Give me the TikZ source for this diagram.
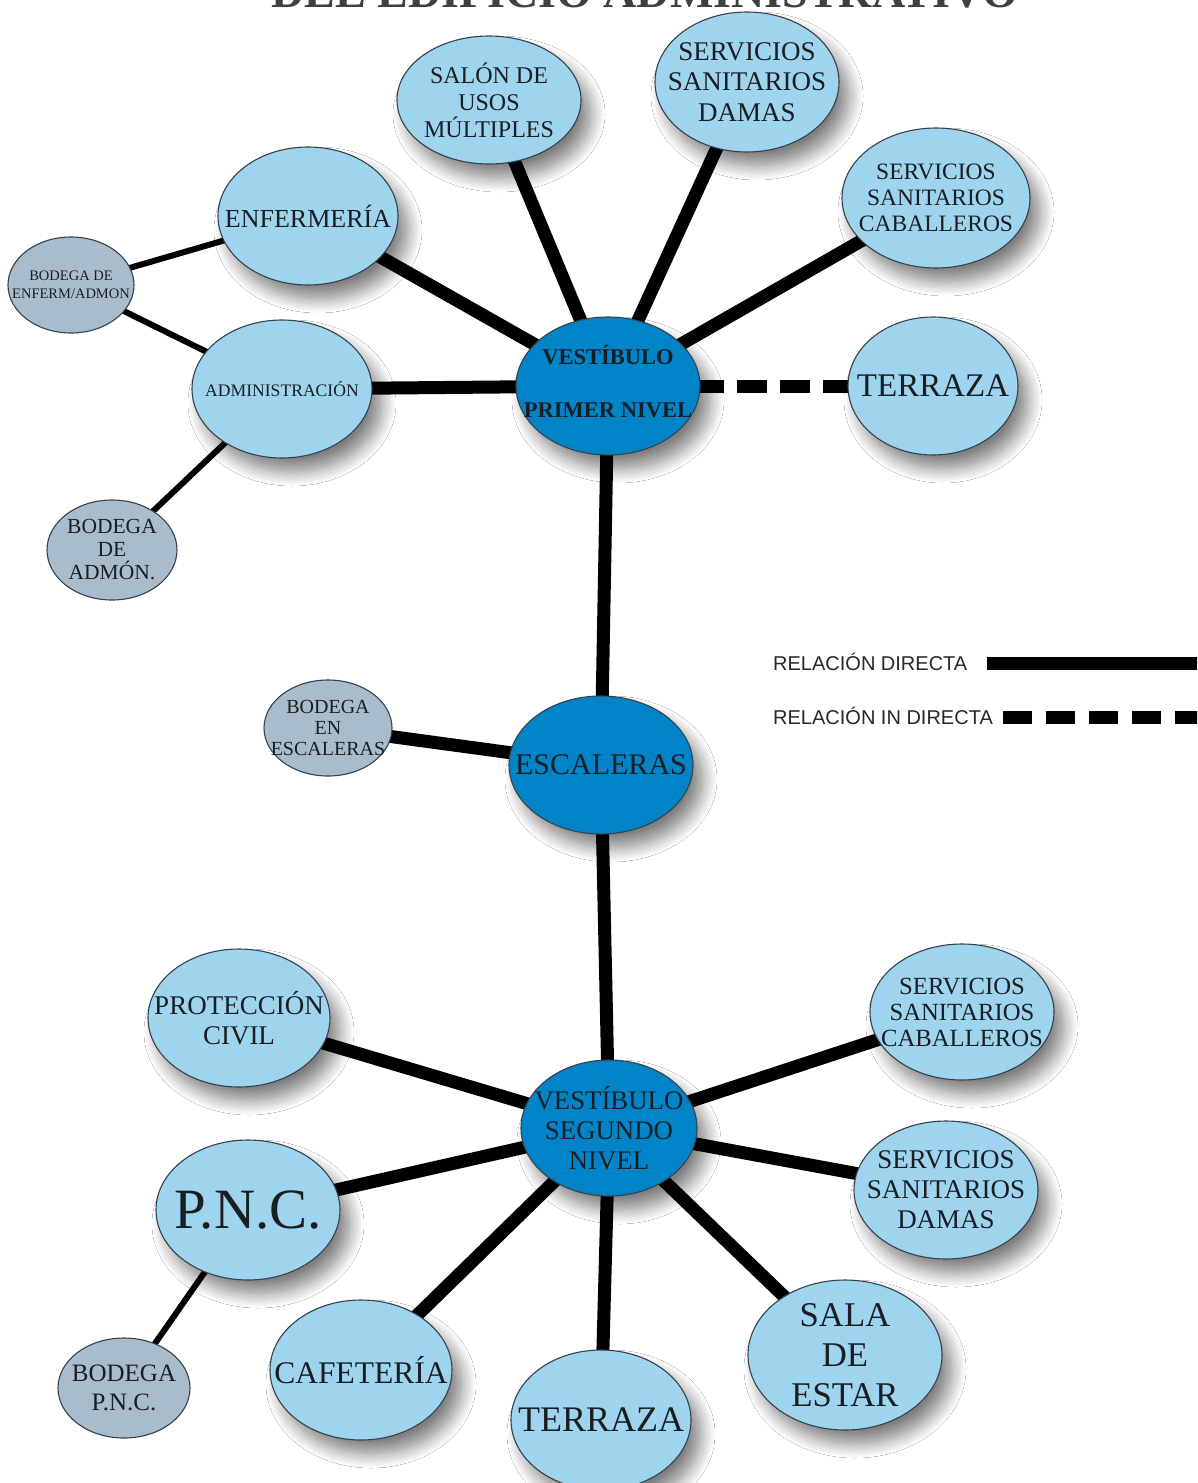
\documentclass[tikz,border=0pt]{standalone}
\usepackage{fontspec}
\setmainfont{Liberation Serif}
\newfontfamily\legfont{Liberation Sans}
\usetikzlibrary{shapes.geometric,backgrounds,shadows.blur}
\definecolor{lblue}{RGB}{158,212,238}
\definecolor{dblue}{RGB}{0,132,199}
\definecolor{gbox}{RGB}{168,188,204}
\definecolor{edgec}{RGB}{55,65,75}
\definecolor{inkc}{RGB}{25,30,35}
\definecolor{legc}{RGB}{40,40,40}
\tikzset{
  ell/.style={ellipse, draw=edgec, line width=1.1pt, inner sep=0pt},
  shad/.style={blur shadow={shadow xshift=10pt, shadow yshift=-14pt, shadow blur radius=14pt, shadow opacity=50, shadow blur steps=12}},
  room/.style={ell, shad, fill=lblue},
  hub/.style={ell, shad, fill=dblue},
  store/.style={ell, fill=gbox},
  sz/.style 2 args={minimum width=#1, minimum height=#2},
  lbl/.style={align=center, text=inkc, inner sep=0pt},
  f/.style 2 args={font=\fontsize{#1}{#2}\selectfont},
  rel/.style={line width=13pt, color=black},
  relthin/.style={line width=6pt, color=black},
  indirect/.style={rel, dash pattern=on 30pt off 13pt},
}
\begin{document}
\begin{tikzpicture}[x=1pt,y=-1pt]
\useasboundingbox (0,0) rectangle (1197,1483);
\clip (0,0) rectangle (1197,1483);

% title (cut at top)
\node[anchor=base, font=\bfseries\fontsize{46}{46}\selectfont, text=black!75, inner sep=0pt] (title) at (645,7) {DEL EDIFICIO ADMINISTRATIVO};

% nodes
\node[room, sz={184pt}{128pt}] (salon) at (489,100) {};
\node[lbl, f={24}{27}] (salonT) at (salon.center) {SALÓN DE\\USOS\\MÚLTIPLES};

\node[room, sz={184pt}{140pt}] (damas1) at (747,82) {};
\node[lbl, f={27}{30.5}] (damas1T) at (damas1.center) {SERVICIOS\\SANITARIOS\\DAMAS};

\node[room, sz={180pt}{138pt}] (enf) at (308,216) {};
\node[lbl, f={26}{28}] (enfT) at (enf.center) {ENFERMERÍA};

\node[room, sz={188pt}{140pt}] (cab1) at (936,198) {};
\node[lbl, f={23.5}{26}] (cab1T) at (cab1.center) {SERVICIOS\\SANITARIOS\\CABALLEROS};

\node[store, sz={126pt}{96pt}] (bodenf) at (71,285) {};
\node[lbl, f={14.5}{18}] (bodenfT) at (bodenf.center) {BODEGA DE\\ENFERM/ADMON};

\node[room, sz={180pt}{138pt}] (admin) at (282,389) {};
\node[lbl, f={17.6}{20}] (adminT) at (admin.center) {ADMINISTRACIÓN};

\node[hub, sz={184pt}{138pt}] (vpn) at (608,386) {};
\node[lbl, font={\bfseries\fontsize{22.5}{53}\selectfont}] (vpnT) at (608,382) {VESTÍBULO\\PRIMER NIVEL};

\node[room, sz={170pt}{138pt}] (terr1) at (933,386) {};
\node[lbl, f={33}{36}] (terr1T) at (terr1.center) {TERRAZA};

\node[store, sz={130pt}{100pt}] (bodadm) at (112,550) {};
\node[lbl, f={21.5}{23}] (bodadmT) at (bodadm.center) {BODEGA\\DE\\ADMÓN.};

\node[store, sz={128pt}{96pt}] (bodesc) at (328,728) {};
\node[lbl, f={20}{21}] (bodescT) at (bodesc.center) {BODEGA\\EN\\ESCALERAS};

\node[hub, sz={184pt}{138pt}] (esc) at (601,765) {};
\node[lbl, f={30}{32}] (escT) at (esc.center) {ESCALERAS};

\node[room, sz={182pt}{138pt}] (prot) at (239,1018) {};
\node[lbl, f={27}{30}] (protT) at (prot.center) {PROTECCIÓN\\CIVIL};

\node[room, sz={184pt}{136pt}] (cab2) at (962,1012) {};
\node[lbl, f={24.7}{26}] (cab2T) at (cab2.center) {SERVICIOS\\SANITARIOS\\CABALLEROS};

\node[hub, sz={176pt}{136pt}] (vsn) at (609,1128) {};
\node[lbl, f={26.8}{30}] (vsnT) at (vsn.center) {VESTÍBULO\\SEGUNDO\\NIVEL};

\node[room, sz={184pt}{138pt}] (damas2) at (946,1190) {};
\node[lbl, f={27}{30}] (damas2T) at (damas2.center) {SERVICIOS\\SANITARIOS\\DAMAS};

\node[room, sz={184pt}{140pt}] (pnc) at (248,1210) {};
\node[lbl, f={57}{60}] (pncT) at (pnc.center) {P.N.C.};

\node[room, sz={182pt}{140pt}] (caf) at (361,1370) {};
\node[lbl, f={31.5}{34}] (cafT) at (caf.center) {CAFETERÍA};

\node[room, sz={194pt}{150pt}] (sala) at (845,1355) {};
\node[lbl, f={34.7}{40}] (salaT) at (sala.center) {SALA\\DE\\ESTAR};

\node[room, sz={180pt}{140pt}] (terr2) at (601,1420) {};
\node[lbl, f={36}{38}] (terr2T) at (terr2.center) {TERRAZA};

\node[store, sz={132pt}{100pt}] (bodpnc) at (124,1388) {};
\node[lbl, f={25}{29}] (bodpncT) at (bodpnc.center) {BODEGA\\P.N.C.};

% connectors
\begin{pgfonlayer}{background}
\fill[white] (0,0) rectangle (1197,1483);
\draw[rel] (vpn.center) -- (enf.center);
\draw[rel] (vpn.center) -- (salon.center);
\draw[rel] (vpn.center) -- (damas1.center);
\draw[rel] (vpn.center) -- (cab1.center);
\draw[rel] (vpn.center) -- (admin.center);
\draw[indirect] (vpn.center) -- (terr1.center);
\draw[rel] (vpn.center) -- (esc.center);
\draw[relthin] (enf.center) -- (bodenf.center);
\draw[relthin] (admin.center) -- (bodenf.center);
\draw[relthin] (admin.center) -- (bodadm.center);
\draw[rel] (esc.center) -- (bodesc.center);
\draw[rel] (esc.center) -- (vsn.center);
\draw[rel] (vsn.center) -- (prot.center);
\draw[rel] (vsn.center) -- (cab2.center);
\draw[rel] (vsn.center) -- (damas2.center);
\draw[rel] (vsn.center) -- (pnc.center);
\draw[rel] (vsn.center) -- (caf.center);
\draw[rel] (vsn.center) -- (terr2.center);
\draw[rel] (vsn.center) -- (sala.center);
\draw[relthin] (pnc.center) -- (bodpnc.center);
\end{pgfonlayer}

% legend
\node[anchor=base west, inner sep=0pt, text=legc, font=\legfont\fontsize{20}{22}\selectfont] (leg1) at (773,670) {RELACIÓN DIRECTA};
\node[anchor=base west, inner sep=0pt, text=legc, font=\legfont\fontsize{20}{22}\selectfont] (leg2) at (773,724) {RELACIÓN IN DIRECTA};
\coordinate (leg1a) at (987,663);
\coordinate (leg1b) at (1205,663);
\coordinate (leg2a) at (1003,717);
\coordinate (leg2b) at (1205,717);
\draw[rel] (leg1a) -- (leg1b);
\draw[rel, dash pattern=on 29pt off 14pt] (leg2a) -- (leg2b);
\end{tikzpicture}
\end{document}
